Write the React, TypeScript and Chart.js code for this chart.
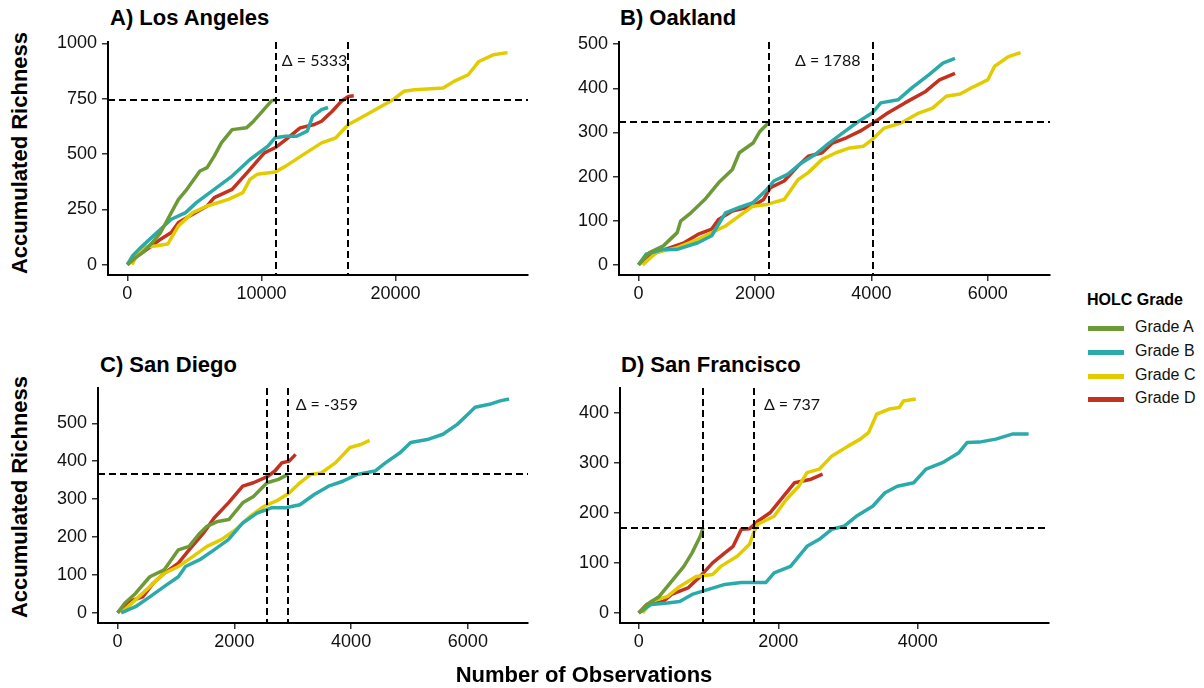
import React, { useEffect, useRef } from "react";
import { Chart, registerables } from "chart.js";

Chart.register(...registerables);

const GRADES = ["Grade A", "Grade B", "Grade C", "Grade D"];
const COLORS = ["#6B9A36", "#2BAAAA", "#E2CC00", "#C4321F"];

// ---- A) Los Angeles ----
const LA_A: [number, number][] = [[0,0],[600,30],[1150,55],[1800,95],[2480,145],[3013,205],[3813,295],[4347,333],[5413,423],[5947,438],[6480,490],[7013,550],[7813,610],[8880,618],[9413,648],[9947,685],[10747,740],[11093,745]];
const LA_B: [number, number][] = [[0,0],[400,40],[880,70],[1680,115],[2480,160],[3280,205],[4347,235],[5147,280],[6480,340],[7813,400],[9147,475],[10480,535],[11013,573],[11813,580],[12613,580],[13413,603],[13813,670],[14480,700],[14960,710]];
const LA_C: [number, number][] = [[347,0],[700,40],[1147,78],[2213,85],[3013,93],[3813,175],[4880,235],[5947,265],[7547,295],[8613,325],[9147,385],[9680,408],[11013,418],[11813,445],[13147,498],[14480,550],[15547,573],[16480,633],[17147,655],[18480,700],[19813,745],[20613,783],[21413,790],[23547,798],[24347,828],[25413,858],[26213,918],[27280,948],[28347,958]];
const LA_D: [number, number][] = [[0,0],[613,33],[1680,78],[2480,115],[3280,145],[3813,190],[4880,228],[5947,265],[6480,303],[7813,340],[9147,430],[10213,505],[11013,528],[11813,565],[12880,618],[13947,633],[14480,648],[15280,693],[15947,738],[16480,760],[16880,763]];

// ---- B) Oakland ----
const OAK_A: [number, number][] = [[0,0],[190,28],[427,43],[664,73],[723,99],[901,118],[1138,148],[1375,186],[1612,216],[1731,254],[1968,276],[2087,303],[2245,323]];
const OAK_B: [number, number][] = [[0,0],[130,24],[427,35],[664,35],[1020,50],[1257,66],[1494,118],[1731,130],[1968,141],[2205,171],[2324,190],[2561,205],[2798,231],[3035,250],[3272,276],[3509,299],[3746,322],[4013,344],[4161,367],[4458,374],[4695,401],[4991,431],[5228,457],[5436,468]];
const OAK_C: [number, number][] = [[71,0],[308,28],[664,39],[1020,58],[1257,73],[1494,88],[1731,111],[1968,133],[2205,137],[2502,148],[2739,193],[2916,209],[3154,239],[3391,254],[3628,265],[3865,269],[4013,284],[4220,310],[4517,322],[4813,344],[5050,355],[5287,382],[5524,387],[5761,404],[5998,419],[6117,450],[6354,472],[6562,481]];
const OAK_D: [number, number][] = [[0,0],[71,9],[308,28],[545,39],[783,50],[1020,69],[1257,81],[1375,103],[1612,122],[1968,133],[2146,148],[2265,175],[2502,190],[2739,224],[2916,246],[3154,254],[3332,276],[3569,288],[3806,303],[4013,320],[4280,344],[4576,367],[4932,393],[5169,419],[5436,434]];

// ---- C) San Diego ----
const SD_A: [number, number][] = [[0,0],[122,25],[306,51],[551,95],[796,113],[1041,166],[1225,175],[1408,210],[1531,228],[1715,241],[1905,246],[2143,290],[2327,307],[2560,343],[2756,352],[2919,365]];
const SD_B: [number, number][] = [[61,0],[306,16],[551,42],[796,69],[1041,95],[1164,122],[1408,140],[1653,166],[1898,193],[2143,237],[2388,263],[2633,277],[2878,277],[3123,285],[3368,312],[3613,334],[3858,347],[4103,365],[4409,374],[4593,396],[4838,422],[5021,449],[5328,458],[5573,471],[5818,497],[6001,524],[6124,542],[6369,550],[6552,559],[6705,564]];
const SD_C: [number, number][] = [[61,0],[306,34],[551,69],[796,104],[1041,122],[1286,148],[1531,175],[1776,193],[2021,219],[2266,254],[2511,281],[2756,298],[2939,316],[3123,343],[3307,365],[3490,369],[3735,396],[3980,436],[4164,444],[4317,455]];
const SD_D: [number, number][] = [[0,0],[184,29],[429,42],[612,78],[796,104],[1041,131],[1225,166],[1470,210],[1653,250],[1898,290],[2143,334],[2327,343],[2572,360],[2694,374],[2817,396],[2939,400],[3049,418]];

// ---- D) San Francisco ----
const SF_A: [number, number][] = [[0,0],[118,17],[294,33],[471,63],[647,93],[765,120],[882,153],[922,170]];
const SF_B: [number, number][] = [[0,0],[176,17],[412,20],[588,23],[765,37],[1000,47],[1235,57],[1471,61],[1824,61],[1941,80],[2176,93],[2294,113],[2412,133],[2588,147],[2765,167],[2941,173],[3118,193],[3353,213],[3529,240],[3706,253],[3941,260],[4118,287],[4353,300],[4588,320],[4706,340],[4882,341],[5118,347],[5353,357],[5588,357]];
const SF_C: [number, number][] = [[59,0],[176,23],[412,33],[588,53],[824,73],[1059,77],[1176,93],[1412,113],[1588,137],[1647,160],[1706,177],[1941,193],[2118,227],[2294,253],[2412,280],[2588,287],[2765,313],[3000,333],[3176,347],[3294,360],[3412,397],[3588,407],[3735,410],[3794,423],[3971,427]];
const SF_D: [number, number][] = [[0,0],[118,17],[353,23],[471,37],[706,50],[882,73],[1059,100],[1235,120],[1353,133],[1471,167],[1588,168],[1706,183],[1882,200],[2059,230],[2235,260],[2471,267],[2635,277]];

// reference lines & labels
const TITLES = ["A) Los Angeles", "B) Oakland", "C) San Diego", "D) San Francisco"];
const VLINES = [[11093, 16426], [2245, 4033], [2560, 2919], [922, 1659]];
const HLINES = [743, 323, 366, 170];
const DELTA_LABELS = ["Δ = 5333", "Δ = 1788", "Δ = -359", "Δ = 737"];
const DELTA_X = [11520, 2688, 3050, 1794];
const DELTA_Y = [920, 462, 548, 415];

// axis ranges and ticks
const X_RANGES = [[-1440, 29870], [-335, 7068], [-336, 7030], [-268, 5880]];
const Y_RANGES = [[-47, 1006], [-23, 505], [-27, 593], [-20, 449]];
const X_TICKS = [[0, 10000, 20000], [0, 2000, 4000, 6000], [0, 2000, 4000, 6000], [0, 2000, 4000]];
const Y_TICKS = [[0, 250, 500, 750, 1000], [0, 100, 200, 300, 400, 500], [0, 100, 200, 300, 400, 500], [0, 100, 200, 300, 400]];

const SERIES = [
  [LA_A, LA_B, LA_C, LA_D],
  [OAK_A, OAK_B, OAK_C, OAK_D],
  [SD_A, SD_B, SD_C, SD_D],
  [SF_A, SF_B, SF_C, SF_D],
];

// chart-area boxes on the page (left, top, right, bottom)
const AREAS = [
  [108, 42, 528, 275],
  [619, 42, 1050, 275],
  [98, 388, 528, 623],
  [620, 388, 1049, 623],
];
const PAD_L = 66, PAD_T = 10, PAD_R = 10, PAD_B = 40;

const refPlugin = {
  id: "refLines",
  afterDatasetsDraw(chart: any, _args: any, opts: any) {
    const { ctx, chartArea } = chart;
    const { left, right, top, bottom } = chartArea;
    const xs = chart.scales.x, ys = chart.scales.y;
    ctx.save();
    ctx.strokeStyle = "#000";
    ctx.lineWidth = 2;
    ctx.setLineDash([7, 4]);
    (opts.vlines || []).forEach((v: number) => {
      const px = Math.round(xs.getPixelForValue(v));
      ctx.beginPath();
      ctx.moveTo(px, top);
      ctx.lineTo(px, bottom);
      ctx.stroke();
    });
    const py = Math.round(ys.getPixelForValue(opts.hline));
    ctx.beginPath();
    ctx.moveTo(left, py);
    ctx.lineTo(right, py);
    ctx.stroke();
    ctx.setLineDash([]);
    ctx.fillStyle = "#111";
    ctx.font = "16px Lato";
    ctx.textAlign = "left";
    ctx.textBaseline = "middle";
    ctx.fillText(opts.label, xs.getPixelForValue(opts.labelX), ys.getPixelForValue(opts.labelY));
    ctx.restore();
  },
};

const tickFont = { family: "Liberation Sans", size: 18 };

function Panel({ idx }: { idx: number }) {
  const ref = useRef<HTMLCanvasElement>(null);
  const [l, t, r, b] = AREAS[idx];
  const left = l - PAD_L;
  const top = t - PAD_T;
  const w = r - l + PAD_L + PAD_R;
  const h = b - t + PAD_T + PAD_B;

  useEffect(() => {
    const xTicks = X_TICKS[idx];
    const yTicks = Y_TICKS[idx];
    const chart = new Chart(ref.current as HTMLCanvasElement, {
      type: "line",
      data: {
        datasets: SERIES[idx].map((pts, i) => ({
          label: GRADES[i],
          data: pts.map(([x, y]) => ({ x, y })),
          borderColor: COLORS[i],
          backgroundColor: COLORS[i],
          borderWidth: 3.5,
          pointRadius: 0,
          tension: 0,
          borderJoinStyle: "round" as const,
          fill: false,
        })),
      },
      plugins: [refPlugin as any],
      options: {
        responsive: false,
        animation: false,
        devicePixelRatio: 1,
        layout: { padding: { top: PAD_T, right: PAD_R, left: 0, bottom: 0 } },
        plugins: {
          legend: { display: false },
          tooltip: { enabled: false },
          title: { display: false },
          refLines: {
            vlines: VLINES[idx],
            hline: HLINES[idx],
            label: DELTA_LABELS[idx],
            labelX: DELTA_X[idx],
            labelY: DELTA_Y[idx],
          },
        } as any,
        scales: {
          x: {
            type: "linear",
            min: X_RANGES[idx][0],
            max: X_RANGES[idx][1],
            afterBuildTicks: (s: any) => {
              s.ticks = xTicks.map((v) => ({ value: v }));
            },
            afterFit: (s: any) => {
              s.height = PAD_B;
              s.paddingLeft = 0;
              s.paddingRight = 0;
            },
            grid: { display: true, drawOnChartArea: false, drawTicks: true, tickLength: 6, color: "#333", lineWidth: 1.5 },
            border: { display: true, color: "#000", width: 2 },
            ticks: {
              font: tickFont,
              color: "#111",
              padding: 2,
              maxRotation: 0,
              autoSkip: false,
              callback: (v: any) => String(v),
            },
          },
          y: {
            type: "linear",
            min: Y_RANGES[idx][0],
            max: Y_RANGES[idx][1],
            afterBuildTicks: (s: any) => {
              s.ticks = yTicks.map((v) => ({ value: v }));
            },
            afterFit: (s: any) => {
              s.width = PAD_L;
              s.paddingTop = 0;
              s.paddingBottom = 0;
            },
            grid: { display: true, drawOnChartArea: false, drawTicks: true, tickLength: 6, color: "#333", lineWidth: 1.5 },
            border: { display: true, color: "#000", width: 2 },
            ticks: {
              font: tickFont,
              color: "#111",
              padding: 5,
              autoSkip: false,
              callback: (v: any) => String(v),
            },
          },
        },
      } as any,
    });
    return () => chart.destroy();
  }, [idx]);

  return (
    <canvas
      ref={ref}
      width={w}
      height={h}
      style={{ position: "absolute", left, top, width: w, height: h }}
    />
  );
}

const TITLE_POS = [[110, 7], [620, 7], [100, 354], [621, 354]];

export default function App() {
  const bold = { fontFamily: "Liberation Sans", fontWeight: 700, color: "#000" } as const;
  return (
    <div style={{ position: "absolute", left: 0, top: 0, width: 1204, height: 688, background: "#fff", overflow: "hidden" }}>
      {[0, 1, 2, 3].map((i) => (
        <Panel key={i} idx={i} />
      ))}
      {TITLES.map((tt, i) => (
        <div
          key={tt}
          style={{ ...bold, position: "absolute", left: TITLE_POS[i][0], top: TITLE_POS[i][1], fontSize: 22, lineHeight: "22px", whiteSpace: "nowrap" }}
        >
          {tt}
        </div>
      ))}
      {[153, 497].map((cy) => (
        <div
          key={cy}
          style={{
            ...bold,
            position: "absolute",
            left: 20,
            top: cy,
            fontSize: 22,
            lineHeight: "22px",
            whiteSpace: "nowrap",
            transform: "translate(-50%, -50%) rotate(-90deg)",
          }}
        >
          Accumulated Richness
        </div>
      ))}
      <div
        style={{
          ...bold,
          position: "absolute",
          left: 584,
          top: 675,
          fontSize: 22,
          lineHeight: "22px",
          whiteSpace: "nowrap",
          transform: "translate(-50%, -50%)",
        }}
      >
        Number of Observations
      </div>
      <div style={{ ...bold, position: "absolute", left: 1087, top: 291, fontSize: 16, lineHeight: "18px", whiteSpace: "nowrap" }}>
        HOLC Grade
      </div>
      {GRADES.map((g, i) => (
        <div key={g} style={{ position: "absolute", left: 1088, top: 316 + i * 23.8, height: 24, width: 116 }}>
          <div style={{ position: "absolute", left: 0, top: 10, width: 36, height: 5, background: COLORS[i] }} />
          <div
            style={{
              position: "absolute",
              left: 47,
              top: 2,
              fontFamily: "Liberation Sans",
              fontSize: 16,
              lineHeight: "18px",
              color: "#111",
              whiteSpace: "nowrap",
            }}
          >
            {g}
          </div>
        </div>
      ))}
    </div>
  );
}
